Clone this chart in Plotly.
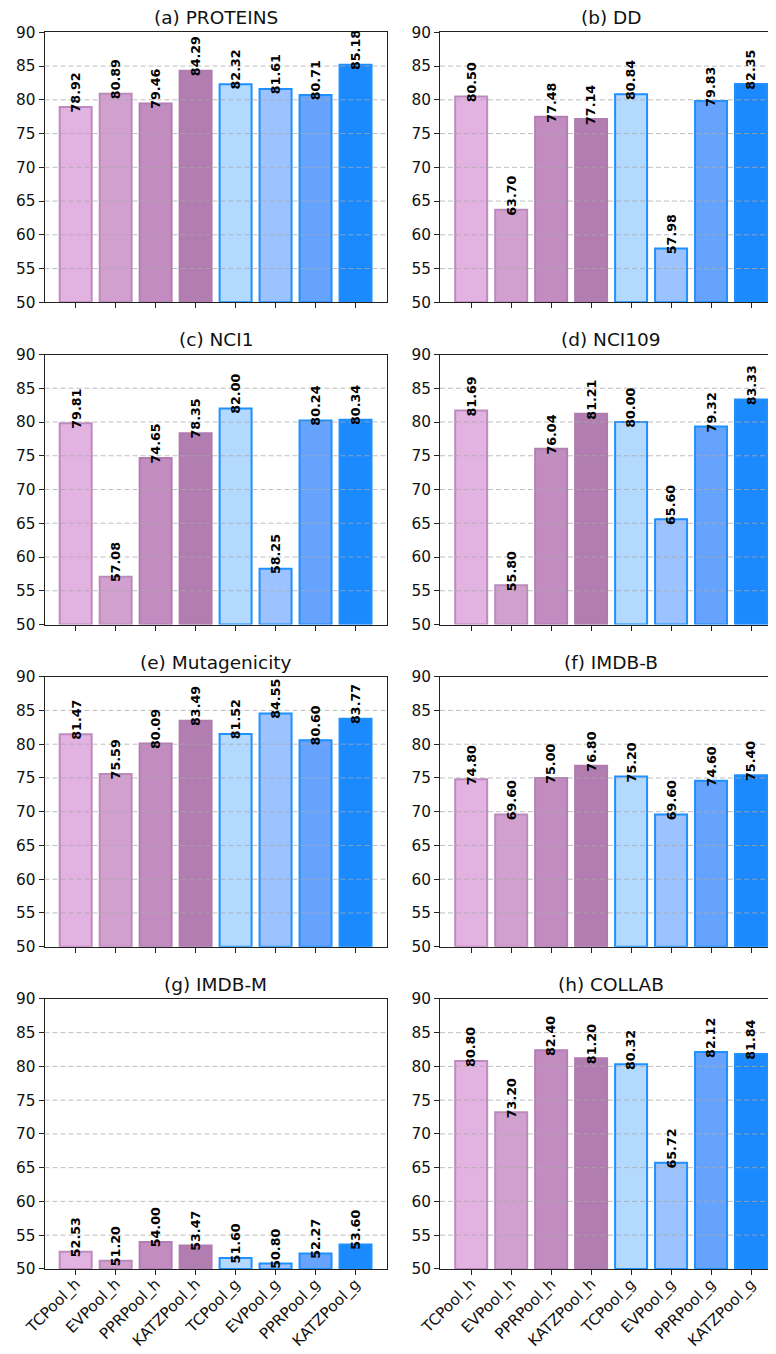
import plotly.graph_objects as go

methods = ["TCPool_h", "EVPool_h", "PPRPool_h", "KATZPool_h",
           "TCPool_g", "EVPool_g", "PPRPool_g", "KATZPool_g"]

titles = ["(a) PROTEINS", "(b) DD", "(c) NCI1", "(d) NCI109",
          "(e) Mutagenicity", "(f) IMDB-B", "(g) IMDB-M", "(h) COLLAB"]

proteins = [78.92, 80.89, 79.46, 84.29, 82.32, 81.61, 80.71, 85.18]
dd = [80.50, 63.70, 77.48, 77.14, 80.84, 57.98, 79.83, 82.35]
nci1 = [79.81, 57.08, 74.65, 78.35, 82.00, 58.25, 80.24, 80.34]
nci109 = [81.69, 55.80, 76.04, 81.21, 80.00, 65.60, 79.32, 83.33]
mutagenicity = [81.47, 75.59, 80.09, 83.49, 81.52, 84.55, 80.60, 83.77]
imdb_b = [74.80, 69.60, 75.00, 76.80, 75.20, 69.60, 74.60, 75.40]
imdb_m = [52.53, 51.20, 54.00, 53.47, 51.60, 50.80, 52.27, 53.60]
collab = [80.80, 73.20, 82.40, 81.20, 80.32, 65.72, 82.12, 81.84]

datasets = [proteins, dd, nci1, nci109, mutagenicity, imdb_b, imdb_m, collab]

y_ticks = [50, 55, 60, 65, 70, 75, 80, 85, 90]

fill_colors = ["#E2B2E0", "#D1A0CF", "#C38CC0", "#B27DB1",
               "#B3D9FF", "#9CC3FF", "#66A3FF", "#1C8AFF"]
edge_colors = ["#BE8ABF", "#BB8BBC", "#B47DB4", "#B07BAF",
               "#1E90FF", "#1E90FF", "#1E90FF", "#1E90FF"]

W, H = 776, 1354
OFF = 8.0  # the page body margin shifts the figure by this many pixels
FONT = "DejaVu Sans"
TICK_SIZE = 15.3
TITLE_SIZE = 18.5
LABEL_SIZE = 12.7
panel_w = 342.2
left_x0 = 44.5 - OFF
right_x0 = 440.0 - OFF
row_top0, row_pitch, row_h = 32.3 - OFF, 322.2, 270.0
xmin, xmax = -0.78, 7.78
y_lo, y_hi = 50, 90
label_drop_px = row_h / (y_hi - y_lo)  # labels start one data unit below the bar top

fig = go.Figure()
layout = dict(
    template="none",
    width=W, height=H,
    margin=dict(l=0, r=0, t=0, b=0, pad=0, autoexpand=False),
    paper_bgcolor="white", plot_bgcolor="white",
    showlegend=False,
    font=dict(family=FONT, size=TICK_SIZE, color="#111111"),
)
annotations = []
shapes = []

xs = list(range(len(methods)))

for k, (vals, title) in enumerate(zip(datasets, titles)):
    n = k + 1
    row, col = divmod(k, 2)
    top = row_top0 + row * row_pitch
    bot = top + row_h
    x0 = left_x0 if col == 0 else right_x0
    x1 = x0 + panel_w
    xa = "x" if n == 1 else f"x{n}"
    ya = "y" if n == 1 else f"y{n}"

    fig.add_trace(go.Bar(
        x=xs, y=[v - y_lo for v in vals], base=y_lo, width=0.8,
        marker=dict(color=fill_colors, line=dict(color=edge_colors, width=2)),
        xaxis=xa, yaxis=ya, hoverinfo="skip",
    ))

    bottom_row = row == 3
    layout["xaxis" if n == 1 else f"xaxis{n}"] = dict(
        domain=[x0 / W, x1 / W], anchor=ya, range=[xmin, xmax],
        automargin=False,
        tickmode="array", tickvals=xs,
        ticktext=methods if bottom_row else [""] * len(methods),
        showticklabels=bottom_row, tickangle=-45, ticklabelstandoff=-6,
        ticks="outside", ticklen=5, tickwidth=1, tickcolor="#222222",
        showline=True, linecolor="#222222", linewidth=1, mirror=True,
        showgrid=False, zeroline=False, fixedrange=True,
        tickfont=dict(family=FONT, size=TICK_SIZE, color="#111111"),
    )
    layout["yaxis" if n == 1 else f"yaxis{n}"] = dict(
        domain=[1 - bot / H, 1 - top / H], anchor=xa, range=[y_lo, y_hi],
        automargin=False,
        tickmode="array", tickvals=y_ticks,
        ticks="outside", ticklen=5, tickwidth=1, tickcolor="#222222",
        showline=True, linecolor="#222222", linewidth=1, mirror=True,
        showgrid=False, zeroline=False, fixedrange=True,
        tickfont=dict(family=FONT, size=TICK_SIZE, color="#111111"),
    )

    for yv in y_ticks[1:-1]:
        shapes.append(dict(
            type="line", xref=f"{xa} domain", yref=ya,
            x0=0, x1=1, y0=yv, y1=yv, layer="above",
            line=dict(color="rgba(170,170,170,0.75)", width=1, dash="5px,3px"),
        ))

    for i, v in enumerate(vals):
        annotations.append(dict(
            x=i, y=v, xref=xa, yref=ya, text=f"<b>{v:.2f}</b>",
            showarrow=False, textangle=-90, xanchor="center", yanchor="bottom",
            yshift=-label_drop_px,
            font=dict(family=FONT, size=LABEL_SIZE, color="black"), borderpad=0,
        ))

    annotations.append(dict(
        x=0.5, y=1, xref=f"{xa} domain", yref=f"{ya} domain",
        text=title, showarrow=False, xanchor="center", yanchor="bottom",
        yshift=3, borderpad=0,
        font=dict(family=FONT, size=TITLE_SIZE, color="#111111"),
    ))

layout["annotations"] = annotations
layout["shapes"] = shapes
fig.update_layout(**layout)
fig.write_html("out.html")
